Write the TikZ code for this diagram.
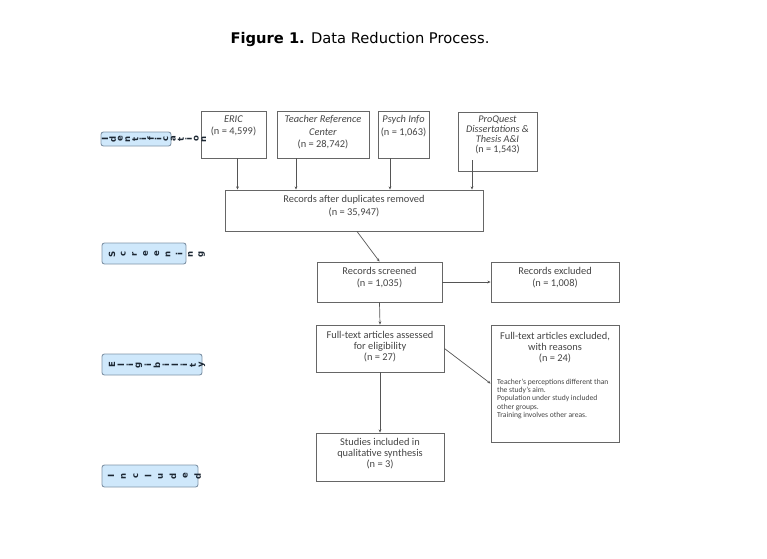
\documentclass[tikz,border=0pt]{standalone}
\usepackage{fontspec}
\setmainfont{Carlito}
\newfontfamily\titlefont{DejaVu Sans}
\usetikzlibrary{fit,arrows.meta}
\definecolor{boxgray}{HTML}{666666}
\definecolor{txtgray}{HTML}{454545}
\definecolor{arrgray}{HTML}{555555}
\definecolor{stagefill}{HTML}{CFE8FB}
\definecolor{stageborder}{HTML}{7F93A6}
\definecolor{letcol}{HTML}{1C2733}
\begin{document}
\begin{tikzpicture}[x=1pt,y=-1pt,
  box/.style={draw=boxgray, line width=0.9pt, fill=white, inner sep=0pt},
  txt/.style={text=txtgray, font=\fontsize{10.4}{12.3}\selectfont, align=center, inner sep=0pt},
  small/.style={text=txtgray, font=\fontsize{7.6}{8.4}\selectfont, align=left, inner sep=0pt},
  arr/.style={draw=arrgray, line width=0.7pt, -{Stealth[length=3.2pt,width=2.8pt]}},
  stage/.style={draw=stageborder, fill=stagefill, rounded corners=2.5pt, line width=0.9pt, inner sep=0pt},
  letter/.style={rotate=90, font=\titlefont\bfseries\fontsize{8.5}{9}\selectfont, text=letcol, inner sep=0pt}]
\useasboundingbox (0,0) rectangle (767,558);

\node[font=\titlefont\fontsize{14.7}{17}\selectfont, text=black, inner sep=0pt] (title) at (360,39) {\textbf{Figure 1.} Data Reduction Process.};

% sources
\node[box, fit={(201,111)(266,158)}] (eric) {};
\node[txt, anchor=north] (ericT) at (233.5,115.5) {\textit{ERIC}\\(n = 4,599)};
\node[box, fit={(277,111)(369,158)}] (teacher) {};
\node[txt, anchor=north] (teacherT) at (323,115.5) {\textit{Teacher Reference}\\\textit{Center}\\(n = 28,742)};
\node[box, fit={(378,111)(429,158)}] (psych) {};
\node[txt, anchor=north] (psychT) at (403.5,115.5) {\textit{Psych Info}\\(n = 1,063)};
\node[box, fit={(458,112)(537,171)}] (proquest) {};
\node[txt, anchor=north, font=\fontsize{10.2}{10.2}\selectfont] (proquestT) at (497.5,115.5) {\textit{ProQuest}\\\textit{Dissertations \&}\\\textit{Thesis A\&I}\\(n = 1,543)};

% main flow
\node[box, fit={(225,190)(483,231)}] (dup) {};
\node[txt, anchor=north] (dupT) at (354,195.5) {Records after duplicates removed\\(n = 35,947)};
\node[box, fit={(317,262)(442,302)}] (screened) {};
\node[txt, anchor=north] (screenedT) at (379.5,267) {Records screened\\(n = 1,035)};
\node[box, fit={(491,262)(619,302)}] (excluded) {};
\node[txt, anchor=north] (excludedT) at (555,267) {Records excluded\\(n = 1,008)};
\node[box, fit={(316,325)(444,372)}] (full) {};
\node[txt, anchor=north, font=\fontsize{10.4}{11.2}\selectfont] (fullT) at (380,331) {Full-text articles assessed\\for eligibility\\(n = 27)};
\node[box, fit={(491,325)(619,442)}] (fullex) {};
\node[txt, anchor=north, font=\fontsize{10.4}{11.2}\selectfont] (fullexT) at (555,332) {Full-text articles excluded,\\with reasons\\(n = 24)};
\node[small, anchor=north west] (reasons) at (497,378.5) {Teacher's perceptions different than\\the study's aim.\\Population under study included\\other groups.\\Training involves other areas.};
\node[box, fit={(316,433)(444,481)}] (studies) {};
\node[txt, anchor=north, font=\fontsize{10.4}{11.2}\selectfont] (studiesT) at (380,438) {Studies included in\\qualitative synthesis\\(n = 3)};

% connectors
\draw[arr] ([xshift=4]eric.south) -- ([xshift=4]eric.south |- dup.north);
\draw[arr] ([xshift=-27]teacher.south) -- ([xshift=-27]teacher.south |- dup.north);
\draw[arr] ([xshift=-13.5]psych.south) -- ([xshift=-13.5]psych.south |- dup.north);
\coordinate (pqs) at (472,160);
\draw[arr] (pqs) -- (pqs |- dup.north);
\draw[arr] ([xshift=3]dup.south) -- (screened.north);
\draw[arr] (screened.east) -- (excluded.west);
\draw[arr] (screened.south) -- (full.north);
\draw[arr] (full.east) -- (fullex.west);
\draw[arr] (full.south) -- (studies.north);

% stage labels
\node[stage, fit={(101,132)(171,146)}] (s1) {};
\node[stage, fit={(102,243)(186,264)}] (s2) {};
\node[stage, fit={(102,354)(202,375)}] (s3) {};
\node[stage, fit={(102,465)(198,487)}] (s4) {};
\foreach \c [count=\i from 0] in {I,d,e,n,t,i,f,i,c,a,t,i,o,n}
  \node[letter] (la\i) at (105+\i*7.6,139) {\c};
\foreach \c [count=\i from 0] in {S,c,r,e,e,n,i,n,g}
  \node[letter] (lb\i) at (112+\i*11.2,254) {\c};
\foreach \c [count=\i from 0] in {E,l,i,g,i,b,i,l,i,t,y}
  \node[letter] (lc\i) at (112+\i*9,365) {\c};
\foreach \c [count=\i from 0] in {I,n,c,l,u,d,e,d}
  \node[letter] (ld\i) at (111+\i*12.4,476) {\c};
\end{tikzpicture}
\end{document}
